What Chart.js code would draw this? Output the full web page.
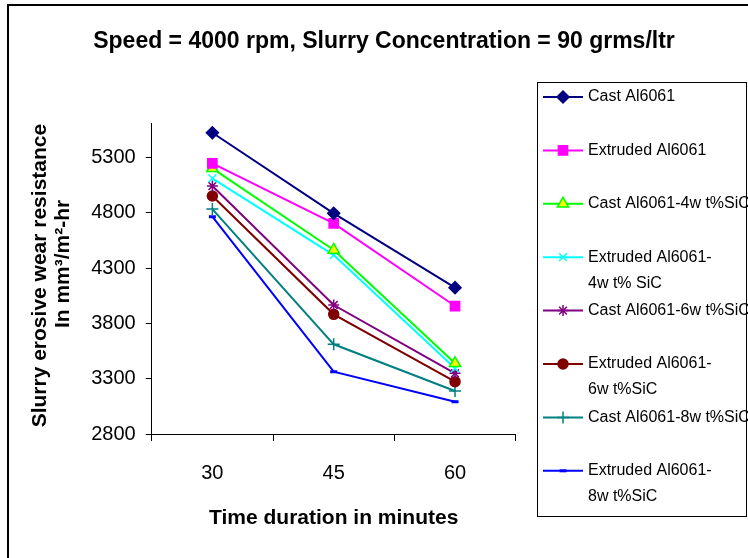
<!DOCTYPE html>
<html>
<head>
<meta charset="utf-8">
<script src="https://cdn.jsdelivr.net/npm/chart.js"></script>
<style>
    html, body { margin: 0; padding: 0; background: #fff; overflow: hidden; }
    #wrap { position: relative; width: 748px; height: 558px; }
    #frame { position: absolute; left: 7px; top: 4px; width: 780px; height: 600px; border: 2px solid #000; pointer-events: none; }
</style>
</head>
<body>
<div id="wrap">
    <canvas id="chart" width="748" height="558"></canvas>
    <div id="frame"></div>
</div>
<script>
const durations = ["30", "45", "60"];
const yTicks = [2800, 3300, 3800, 4300, 4800, 5300];

const castAl = [5524, 4795, 4123];
const extrudedAl = [5247, 4705, 3957];
const cast4 = [5202, 4464, 3439];
const extruded4 = [5112, 4418, 3394];
const cast6 = [5042, 3966, 3349];
const extruded6 = [4952, 3882, 3273];
const cast8 = [4834, 3611, 3189];
const extruded8 = [4765, 3363, 3092];

const legendText = [
    ["Cast Al6061"],
    ["Extruded Al6061"],
    ["Cast Al6061-4w t%SiC"],
    ["Extruded Al6061-", "4w t% SiC"],
    ["Cast Al6061-6w t%SiC"],
    ["Extruded Al6061-", "6w t%SiC"],
    ["Cast Al6061-8w t%SiC"],
    ["Extruded Al6061-", "8w t%SiC"]
];

const FONT = '"Liberation Sans", Arial, sans-serif';
Chart.defaults.font.family = FONT;
Chart.defaults.color = "#000";

function series(label, data, color, style, radius, fill) {
    return {
        label: label,
        data: data,
        borderColor: color,
        borderWidth: 2,
        pointStyle: style,
        pointRadius: radius,
        pointHoverRadius: radius,
        pointBackgroundColor: fill || color,
        pointBorderColor: color,
        pointBorderWidth: 1.5,
        tension: 0,
        fill: false
    };
}

const datasets = [
    series(legendText[0].join(" "), castAl, "#000080", "rectRot", 6),
    series(legendText[1].join(" "), extrudedAl, "#FF00FF", "rect", 6.5),
    series(legendText[2].join(" "), cast4, "#00FF00", "triangle", 6.5, "#FFFF00"),
    series(legendText[3].join(" "), extruded4, "#00FFFF", "crossRot", 5.5),
    series(legendText[4].join(" "), cast6, "#800080", "star", 5.5),
    series(legendText[5].join(" "), extruded6, "#800000", "circle", 5),
    series(legendText[6].join(" "), cast8, "#008080", "cross", 6),
    series(legendText[7].join(" "), extruded8, "#0000FF", "line", 3.5)
];
datasets[7].pointBorderWidth = 3;

// legend box on the right, drawn like the Excel one
const sideLegend = {
    id: "sideLegend",
    afterDraw(chart) {
        const ctx = chart.ctx;
        ctx.save();
        ctx.strokeStyle = "#000";
        ctx.lineWidth = 1;
        ctx.strokeRect(537.5, 82.5, 209, 434);
        chart.data.datasets.forEach((ds, i) => {
            const y = 97 + i * 53.4;
            ctx.strokeStyle = ds.borderColor;
            ctx.lineWidth = 2;
            ctx.beginPath();
            ctx.moveTo(543, y);
            ctx.lineTo(583, y);
            ctx.stroke();
            ctx.fillStyle = ds.pointBackgroundColor;
            ctx.strokeStyle = ds.pointBorderColor;
            ctx.lineWidth = ds.pointBorderWidth;
            Chart.helpers.drawPoint(ctx, {
                pointStyle: ds.pointStyle,
                radius: ds.pointRadius,
                borderWidth: ds.pointBorderWidth,
                rotation: 0
            }, 563, y);
            ctx.fillStyle = "#000";
            ctx.font = "16px " + FONT;
            ctx.textAlign = "left";
            ctx.textBaseline = "middle";
            legendText[i].forEach((t, j) => ctx.fillText(t, 588, y + j * 26));
        });
        ctx.restore();
    }
};

new Chart(document.getElementById("chart"), {
    type: "line",
    data: { labels: durations, datasets: datasets },
    options: {
        responsive: false,
        animation: false,
        devicePixelRatio: 1,
        layout: { padding: { left: 20, right: 0, top: 0, bottom: 27.4 } },
        plugins: {
            legend: { display: false },
            tooltip: { enabled: false },
            title: {
                display: true,
                text: "Speed = 4000 rpm, Slurry Concentration = 90 grms/ltr",
                font: { size: 23, weight: "bold" },
                color: "#000",
                padding: { top: 28.2, bottom: 67.2 }
            }
        },
        scales: {
            x: {
                offset: true,
                grid: { offset: true, drawOnChartArea: false, tickLength: 7, color: "#000" },
                border: { color: "#000", width: 1 },
                ticks: { font: { size: 20 }, color: "#000", padding: 20 },
                title: {
                    display: true,
                    text: "Time duration in minutes",
                    font: { size: 21, weight: "bold" },
                    color: "#000",
                    padding: { top: 0.4, bottom: 0 }
                }
            },
            y: {
                min: 2800,
                max: 5612,
                afterBuildTicks: scale => { scale.ticks = yTicks.map(v => ({ value: v })); },
                afterFit: scale => { scale.width = 131.7; },
                grid: { drawOnChartArea: false, tickLength: 6, color: "#000" },
                border: { color: "#000", width: 1 },
                ticks: { font: { size: 20 }, color: "#000", padding: 10, callback: v => String(v) },
                title: {
                    display: true,
                    text: [" Slurry erosive wear resistance", "     In mm³/m²-hr"],
                    font: { size: 21, weight: "bold", lineHeight: 1.1 },
                    color: "#000",
                    padding: { top: 8.5, bottom: 0 }
                }
            },
            // empty right-hand axis that reserves the room for the legend box
            legendSpace: {
                type: "linear",
                position: "right",
                display: true,
                afterFit: scale => { scale.width = 232.3; },
                grid: { display: false },
                border: { display: false },
                ticks: { display: false }
            }
        }
    },
    plugins: [sideLegend]
});
</script>
</body>
</html>
